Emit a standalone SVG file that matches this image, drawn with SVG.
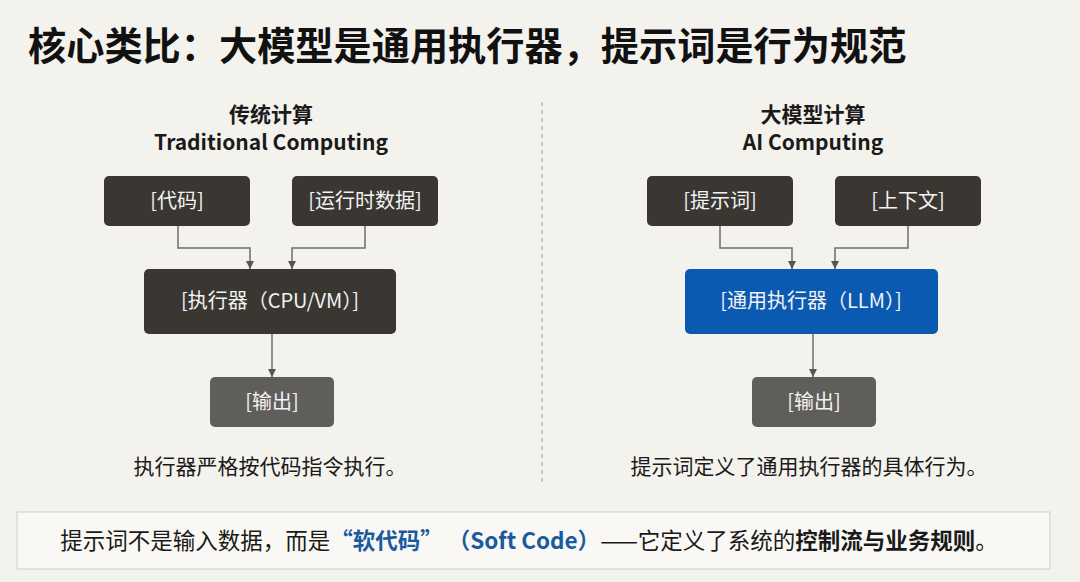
<svg xmlns="http://www.w3.org/2000/svg" width="1080" height="582" viewBox="0 0 1080 582">
<defs>
<marker id="arr" viewBox="0 0 10 10" refX="10" refY="5" markerWidth="8" markerHeight="8" markerUnits="userSpaceOnUse" orient="auto"><path d="M0,0 L10,5 L0,10 z" fill="#555"/></marker>
<style>
text{font-family:"Noto Sans CJK SC","Noto Sans",sans-serif;}
.dark{fill:#3a3733;}
.out{fill:#605e5b;}
.blue{fill:#0b5ab2;}
.lbl{fill:#f2f2f2;font-size:20px;text-anchor:middle;}
.conn{fill:none;stroke:#6e6e6e;stroke-width:1.5;marker-end:url(#arr);}
.head{font-weight:bold;font-size:21px;text-anchor:middle;fill:#1a1a1a;}
.cap{font-size:21px;text-anchor:middle;fill:#1a1a1a;}
</style>
</defs>
<rect width="1080" height="582" fill="#f4f2ed"/>
<text x="28" y="60" font-size="38.2" font-weight="bold" fill="#111">核心类比：大模型是通用执行器，提示词是行为规范</text>
<line x1="542" y1="102" x2="542" y2="482" stroke="#aaa" stroke-width="1.2" stroke-dasharray="4,4"/>
<g id="left-head"><text class="head" x="271" y="122">传统计算</text><text class="head" x="271" y="150">Traditional Computing</text></g>
<g id="right-head"><text class="head" x="813" y="122">大模型计算</text><text class="head" x="813" y="150">AI Computing</text></g>
<g id="connectors">
<path class="conn" d="M178,226 V248 H250 V269"/>
<path class="conn" d="M365,226 V248 H292 V269"/>
<path class="conn" d="M272,334 V377"/>
<path class="conn" d="M720,226 V248 H792 V269"/>
<path class="conn" d="M908,226 V248 H835 V269"/>
<path class="conn" d="M813,334 V377"/>
</g>
<g id="code"><rect class="dark" x="104" y="176" width="146" height="50" rx="5"/><text class="lbl" x="177" y="208">[代码]</text></g>
<g id="data"><rect class="dark" x="292" y="176" width="146" height="50" rx="5"/><text class="lbl" x="365" y="208">[运行时数据]</text></g>
<g id="executor"><rect class="dark" x="144" y="269" width="252" height="65" rx="5"/><text class="lbl" x="270" y="308">[执行器（CPU/VM）]</text></g>
<g id="out1"><rect class="out" x="210" y="377" width="124" height="50" rx="5"/><text class="lbl" x="272" y="409">[输出]</text></g>
<g id="prompt"><rect class="dark" x="647" y="176" width="146" height="50" rx="5"/><text class="lbl" x="720" y="208">[提示词]</text></g>
<g id="context"><rect class="dark" x="835" y="176" width="146" height="50" rx="5"/><text class="lbl" x="908" y="208">[上下文]</text></g>
<g id="llm"><rect class="blue" x="685" y="269" width="253" height="65" rx="5"/><text class="lbl" x="811" y="308">[通用执行器（LLM）]</text></g>
<g id="out2"><rect class="out" x="752" y="377" width="124" height="50" rx="5"/><text class="lbl" x="814" y="409">[输出]</text></g>
<text class="cap" x="270" y="474">执行器严格按代码指令执行。</text>
<text class="cap" x="809" y="474">提示词定义了通用执行器的具体行为。</text>
<g id="note">
<rect x="17" y="512" width="1033" height="57" fill="#f9f8f4" stroke="#cfcdc8" stroke-width="1"/>
<text x="529" y="549" font-size="22.5" text-anchor="middle" fill="#1a1a1a">提示词不是输入数据，而是<tspan fill="#1a5a9e" font-weight="bold">“软代码” （Soft Code）</tspan>——它定义了系统的<tspan font-weight="bold">控制流与业务规则</tspan>。</text>
</g>
</svg>
